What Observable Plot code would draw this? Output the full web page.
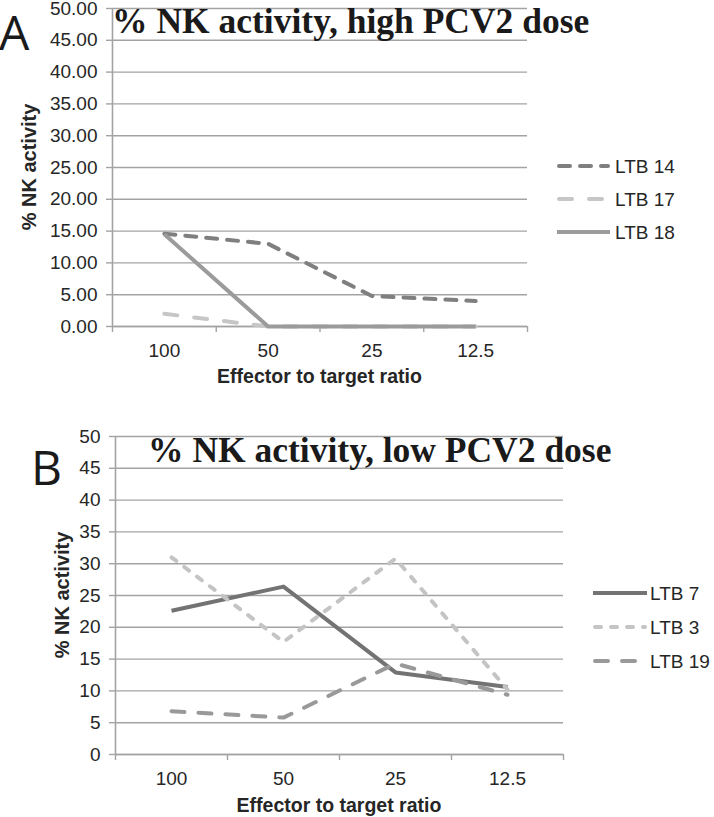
<!DOCTYPE html>
<html><head><meta charset="utf-8">
<script src="https://cdn.jsdelivr.net/npm/d3@7"></script>
<script src="https://cdn.jsdelivr.net/npm/@observablehq/plot@0.6"></script>
<style>
body{margin:0;background:#fff;}
#wrap{position:relative;width:714px;height:817px;overflow:hidden;background:#fff;}
#wrap svg{position:absolute;left:0;}
</style></head><body><div id="wrap"></div>
<script>
// ---- data ----
const ratios = ["100", "50", "25", "12.5"];
const yTicks = [0, 5, 10, 15, 20, 25, 30, 35, 40, 45, 50];
// Panel A: high PCV2 dose
const namesA = ["LTB 14", "LTB 17", "LTB 18"];
const ltb14 = [14.6, 13.0, 4.8, 4.0];
const ltb17 = [2.0, 0, 0, 0];
const ltb18 = [14.5, 0, 0, 0];
// Panel B: low PCV2 dose
const namesB = ["LTB 7", "LTB 3", "LTB 19"];
const ltb7 = [22.6, 26.4, 12.9, 10.6];
const ltb3 = [31.0, 17.7, 30.8, 10.2];
const ltb19 = [6.8, 5.8, 14.3, 9.4];

// ---- styles ----
const gridColor = "#a3a3a3";
const textColor = "#262626";
const sans = "'Liberation Sans', Arial, sans-serif";
const serif = "'Liberation Serif', 'Times New Roman', serif";

const panels = [
  {
    top: 0, height: 400, ml: 112, mr: 187, mt: 8, mb: 74,
    fmt: d => d.toFixed(2),
    title: "% NK activity, high PCV2 dose", titleX: 112, titleY: 33,
    letter: "A", letterX: -1, letterY: 50,
    ylabX: 36, xlabY: 383,
    legX: 557, legLen: 53, legTextX: 615, legY: [166, 199, 232],
    series: [
      {name: namesA[0], values: ltb14, stroke: "#7f7f7f", dash: "11,10"},
      {name: namesA[1], values: ltb17, stroke: "#c6c6c6", dash: "13,17"},
      {name: namesA[2], values: ltb18, stroke: "#9b9b9b", dash: null}
    ]
  },
  {
    top: 400, height: 417, ml: 115, mr: 151, mt: 36, mb: 63,
    fmt: d => String(d),
    title: "% NK activity, low PCV2 dose", titleX: 148, titleY: 462,
    letter: "B", letterX: 31, letterY: 485,
    ylabX: 69, xlabY: 812,
    legX: 593, legLen: 54, legTextX: 650, legY: [593, 627, 661],
    series: [
      {name: namesB[0], values: ltb7, stroke: "#737373", dash: null},
      {name: namesB[1], values: ltb3, stroke: "#c4c4c4", dash: "6,10"},
      {name: namesB[2], values: ltb19, stroke: "#999999", dash: "13,14"}
    ]
  }
];

const wrap = document.getElementById("wrap");
const overlay = d3.create("svg").attr("width", 714).attr("height", 817)
  .style("top", "0px").style("pointer-events", "none");

for (const p of panels) {
  const boundaries = d3.range(ratios.length + 1).map(i => i - 0.5);
  const chart = Plot.plot({
    width: 714, height: p.height,
    marginLeft: p.ml, marginRight: p.mr, marginTop: p.mt, marginBottom: p.mb,
    x: {domain: [-0.5, ratios.length - 0.5], axis: null},
    y: {domain: [0, 50], axis: null},
    style: {fontFamily: sans, fontSize: "19px", color: textColor, background: "transparent", overflow: "visible"},
    marks: [
      Plot.gridY(yTicks, {stroke: gridColor, strokeOpacity: 1, strokeWidth: 1.4}),
      Plot.axisY(yTicks, {tickSize: 6, tickPadding: 9, tickFormat: p.fmt, stroke: gridColor, strokeOpacity: 1, strokeWidth: 1.4, fill: textColor, fontSize: 19, label: null}),
      Plot.ruleX([-0.5], {stroke: gridColor, strokeWidth: 1.6}),
      Plot.ruleY([0], {stroke: gridColor, strokeWidth: 1.6}),
      Plot.axisX(boundaries, {tickSize: 6, tickFormat: () => "", stroke: gridColor, strokeOpacity: 1, strokeWidth: 1.4, label: null}),
      Plot.axisX(ratios.map((d, i) => i), {tickSize: 0, tickPadding: 17, tickFormat: i => ratios[i], fill: textColor, fontSize: 19, label: null}),
      ...p.series.map(s => Plot.line(s.values.map((v, i) => ({i, v})), {
        x: "i", y: "v", stroke: s.stroke, strokeWidth: 4,
        strokeDasharray: s.dash || undefined, strokeLinejoin: "round",
        strokeLinecap: s.dash ? "round" : "butt"
      }))
    ]
  });
  d3.select(chart).selectAll("text")
    .attr("font-size", 19).style("font-size", "19px").style("font-family", sans);
  chart.style.top = p.top + "px";
  wrap.appendChild(chart);

  const plotTop = p.top + p.mt, plotBottom = p.top + p.height - p.mb;
  const cx = (p.ml + (714 - p.mr)) / 2, cy = (plotTop + plotBottom) / 2;

  // panel letter
  overlay.append("text").attr("x", p.letterX).attr("y", p.letterY)
    .attr("font-family", "'Open Sans', " + sans).attr("font-size", 48).attr("fill", "#1a1a1a")
    .text(p.letter);
  // chart title
  overlay.append("text").attr("x", p.titleX).attr("y", p.titleY)
    .attr("font-family", serif).attr("font-weight", "bold").attr("font-size", 35.5).attr("fill", "#1a1a1a")
    .text(p.title);
  // y axis title
  overlay.append("text").attr("transform", `translate(${p.ylabX},${cy}) rotate(-90)`)
    .attr("text-anchor", "middle").attr("font-family", sans).attr("font-weight", "bold")
    .attr("font-size", 20).attr("fill", textColor).text("% NK activity");
  // x axis title
  overlay.append("text").attr("x", cx).attr("y", p.xlabY).attr("text-anchor", "middle")
    .attr("font-family", sans).attr("font-weight", "bold").attr("font-size", 19.5)
    .attr("fill", textColor).text("Effector to target ratio");
  // legend
  p.series.forEach((s, k) => {
    const y = p.legY[k];
    overlay.append("line").attr("x1", p.legX + (s.dash ? 2 : 0)).attr("x2", p.legX + p.legLen - (s.dash ? 2 : 0))
      .attr("y1", y).attr("y2", y)
      .attr("stroke", s.stroke).attr("stroke-width", 4).attr("stroke-dasharray", s.dash || null)
      .attr("stroke-linecap", s.dash ? "round" : "butt");
    overlay.append("text").attr("x", p.legTextX).attr("y", y + 7)
      .attr("font-family", sans).attr("font-size", 19).attr("fill", textColor).text(s.name);
  });
}
wrap.appendChild(overlay.node());
</script>
</body></html>
